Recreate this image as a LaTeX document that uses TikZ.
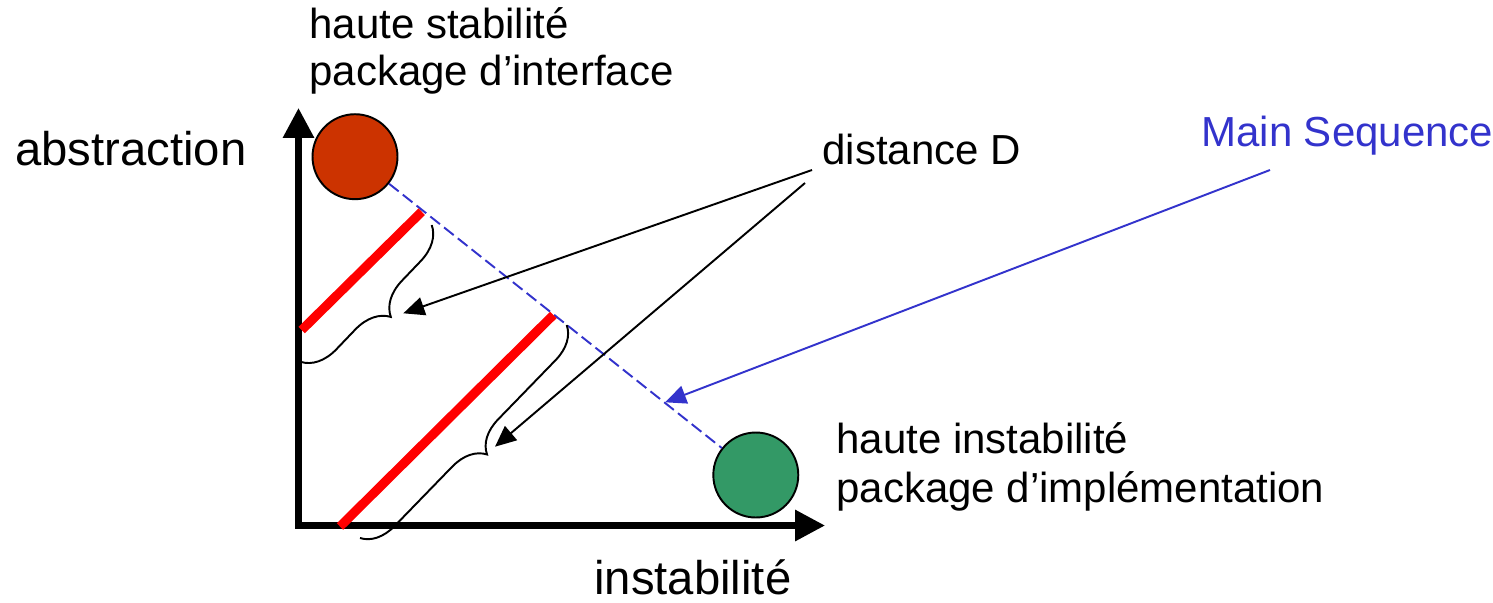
\documentclass[tikz,border=0pt]{standalone}
\usepackage{fontspec}
\setmainfont{Liberation Sans}
\usetikzlibrary{arrows.meta,decorations.pathreplacing}
\definecolor{rcol}{HTML}{CC3300}
\definecolor{gcol}{HTML}{339966}
\definecolor{bcol}{HTML}{3333CC}
\definecolor{lred}{HTML}{FF0000}
\begin{document}
\begin{tikzpicture}[x=0.02cm,y=-0.02cm,
  lbl/.style={anchor=base west,inner sep=0pt,font=\fontsize{23.9}{28}\selectfont},
  axlbl/.style={anchor=base west,inner sep=0pt,font=\fontsize{26.9}{32}\selectfont},
  pkg/.style={circle,draw=black,line width=1.1pt,minimum size=1.7cm,inner sep=0pt},
  axisline/.style={line width=3.6pt,line join=miter,{Triangle[length=17pt,width=17pt]}-{Triangle[length=17pt,width=17pt]}},
  distline/.style={draw=lred,line width=5.2pt},
  seqline/.style={draw=bcol,line width=1.1pt,dash pattern=on 7pt off 3pt},
  ptr/.style={line width=1.1pt,-{Triangle[length=12pt,width=10.5pt]}},
  brc/.style={decorate,decoration={brace,amplitude=#1},line width=1.1pt}
]
\useasboundingbox (0,0) rectangle (1493,602);

% axes
\coordinate (ytip) at (298.5,108);
\coordinate (orig) at (298.5,525.5);
\coordinate (xtip) at (825,525.5);
\draw[axisline] (ytip) -- (orig) -- (xtip);

% packages
\node[pkg,fill=rcol] (rc) at (355,156.7) {};
\node[pkg,fill=gcol] (gc) at (755.8,475) {};
\draw[seqline] (rc) -- (gc);

% distance lines
\coordinate (d1a) at (301.7,330);
\coordinate (d1b) at (421.7,211.7);
\coordinate (d2a) at (340,526.5);
\coordinate (d2b) at (553.3,315);
\draw[distline] (d1a) -- (d1b);
\draw[distline] (d2a) -- (d2b);

% braces
\coordinate (b1a) at (431.7,225);
\coordinate (b1b) at (300.7,362);
\coordinate (b2a) at (566.7,325);
\coordinate (b2b) at (360,538);
\draw[brc=0.68cm] (b1a) -- (b1b);
\draw[brc=0.66cm] (b2a) -- (b2b);

% labels
\node[lbl] (t1) at (309,38) {haute stabilité};
\node[lbl] (t2) at (309,85) {package d’interface};
\node[axlbl] (ab) at (15,165) {abstraction};
\node[axlbl] (ins) at (594,594) {instabilité};
\node[lbl] (t3) at (836,453) {haute instabilité};
\node[lbl] (t4) at (836,502) {package d’implémentation};
\node[lbl] (dd) at (822,164) {distance D};
\node[lbl,text=bcol] (ms) at (1201,146) {Main Sequence};

% pointers
\coordinate (p1s) at (812,170);
\coordinate (p1e) at (403.3,313.3);
\coordinate (p2s) at (805,183);
\coordinate (p2e) at (495,446.7);
\coordinate (p3s) at (1270,170);
\coordinate (p3e) at (665,402.3);
\draw[ptr] (p1s) -- (p1e);
\draw[ptr] (p2s) -- (p2e);
\draw[ptr,draw=bcol,fill=bcol] (p3s) -- (p3e);
\end{tikzpicture}
\end{document}
